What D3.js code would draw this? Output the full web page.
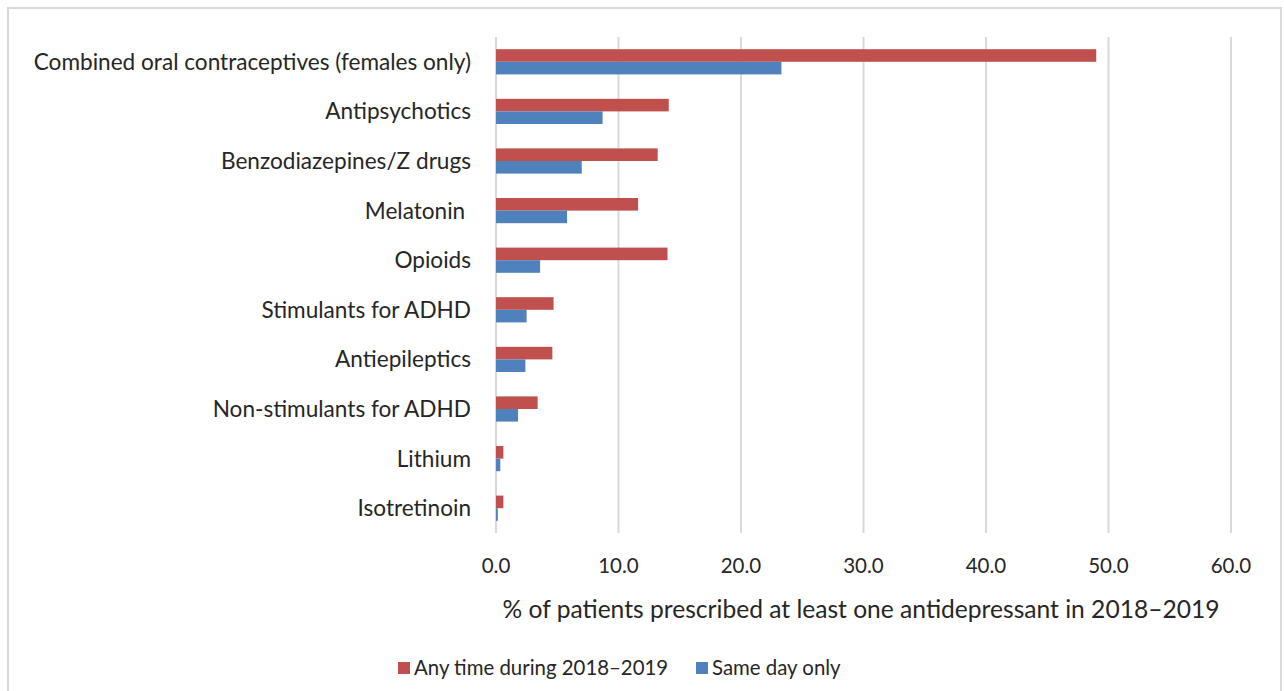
<!DOCTYPE html>
<html><head><meta charset="utf-8">
<script src="https://cdn.jsdelivr.net/npm/d3@7"></script>
<style>body{margin:0;background:#fff;} text{font-family:Lato, "Open Sans", sans-serif;}</style>
</head><body>
<svg id="c" width="1284" height="691"></svg>
<script>
const categories = ["Combined oral contraceptives (females only)","Antipsychotics","Benzodiazepines/Z drugs","Melatonin ","Opioids","Stimulants for ADHD","Antiepileptics","Non-stimulants for ADHD","Lithium","Isotretinoin"];
const anyTime = [49.0,14.1,13.2,11.6,14.0,4.7,4.6,3.4,0.6,0.6];
const sameDay = [23.3,8.7,7.0,5.8,3.6,2.5,2.4,1.8,0.35,0.15];
const seriesNames = ["Any time during 2018\u20132019","Same day only"];
const xTicks = [0,10,20,30,40,50,60];
const colors = ["#C0504D","#4F81BD"];

const svg = d3.select("#c");
svg.append("rect").attr("x",8).attr("y",8).attr("width",1273).attr("height",700)
  .attr("fill","#fff").attr("stroke","#d9d9d9").attr("stroke-width",2);

const x = d3.scaleLinear().domain([0,60]).range([496,1231]);
const y = d3.scaleBand().domain(categories).range([37,533]);
const barH = 12.6;

svg.append("g").selectAll("line").data(xTicks).join("line")
  .attr("x1",d=>x(d)).attr("x2",d=>x(d)).attr("y1",37).attr("y2",533)
  .attr("stroke","#d9d9d9").attr("stroke-width",2);

const g = svg.append("g");
categories.forEach((c,i)=>{
  const cy = y(c)+y.bandwidth()/2;
  g.append("rect").attr("x",x(0)).attr("y",cy-barH).attr("width",x(anyTime[i])-x(0)).attr("height",barH).attr("fill",colors[0]);
  g.append("rect").attr("x",x(0)).attr("y",cy).attr("width",x(sameDay[i])-x(0)).attr("height",barH).attr("fill",colors[1]);
});

svg.append("g").selectAll("text").data(categories).join("text")
  .attr("x",471).attr("y",d=>y(d)+y.bandwidth()/2).attr("dy","0.35em")
  .attr("text-anchor","end").attr("font-size",22.6).attr("fill","#262626")
  .style("white-space","pre").text(d=>d);

svg.append("g").selectAll("text").data(xTicks).join("text")
  .attr("x",d=>x(d)).attr("y",566).attr("dy","0.35em").attr("text-anchor","middle")
  .attr("font-size",20.5).attr("fill","#262626").text(d=>d.toFixed(1));

svg.append("text").attr("x",861).attr("y",609).attr("dy","0.35em").attr("text-anchor","middle")
  .attr("font-size",24.6).attr("fill","#262626")
  .text("% of patients prescribed at least one antidepressant in 2018\u20132019");

const leg = [{x:398,name:seriesNames[0],c:colors[0]},{x:696,name:seriesNames[1],c:colors[1]}];
leg.forEach(l=>{
  svg.append("rect").attr("x",l.x).attr("y",662).attr("width",12).attr("height",12).attr("fill",l.c);
  svg.append("text").attr("x",l.x+16).attr("y",668).attr("dy","0.35em").attr("font-size",20.4).attr("fill","#262626").text(l.name);
});
</script>
</body></html>
